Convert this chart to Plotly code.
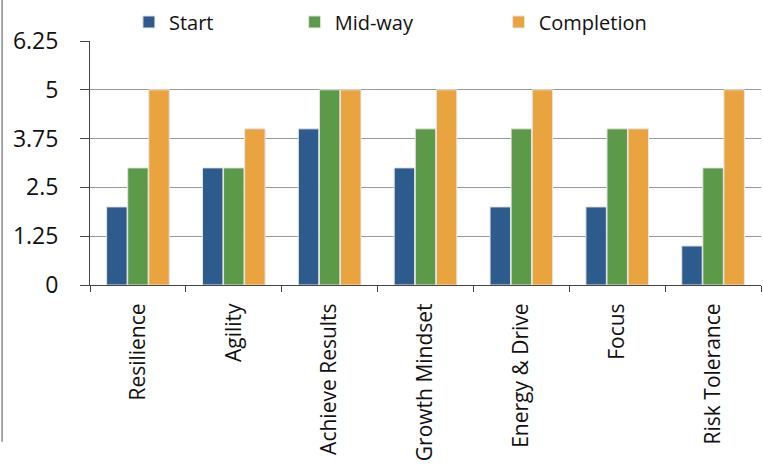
import plotly.graph_objects as go

categories = ["Resilience", "Agility", "Achieve Results", "Growth Mindset",
              "Energy & Drive", "Focus", "Risk Tolerance"]
start = [2, 3, 4, 3, 2, 2, 1]
mid_way = [3, 3, 5, 4, 4, 4, 3]
completion = [5, 4, 5, 5, 5, 4, 5]
y_ticks = [0, 1.25, 2.5, 3.75, 5, 6.25]

series = [
    ("Start", start, "#2E5B8E", "legend", 0.058),
    ("Mid-way", mid_way, "#5C9A4A", "legend2", 0.305),
    ("Completion", completion, "#E9A33F", "legend3", 0.609),
]

fig = go.Figure()
for name, vals, color, leg, _ in series:
    fig.add_trace(go.Bar(
        x=categories, y=vals, name=name, legend=leg, showlegend=True,
        marker=dict(color=color, line=dict(color="#E6E6E6", width=1)),
    ))

legend_font = dict(family="Open Sans", size=20, color="#111111")
legend_common = dict(orientation="h", yanchor="middle", xanchor="left",
                     y=1.078, font=legend_font, bgcolor="rgba(0,0,0,0)",
                     itemwidth=30)
fig.update_layout(
    showlegend=True,
    legend=dict(x=series[0][4], **legend_common),
    legend2=dict(x=series[1][4], **legend_common),
    legend3=dict(x=series[2][4], **legend_common),
)

fig.update_layout(
    width=763, height=469,
    margin=dict(l=90, r=2, t=39, b=184),
    plot_bgcolor="white", paper_bgcolor="white",
    barmode="group", bargap=0.34, bargroupgap=0.03,
    font=dict(family="Open Sans", color="#111111"),
    xaxis=dict(
        tickangle=-90, tickfont=dict(size=21),
        ticks="outside", ticklen=6, tickcolor="#444444",
        tickson="boundaries", showline=True, linecolor="#444444",
        linewidth=1, showgrid=False, ticklabelstandoff=9,
    ),
    yaxis=dict(
        range=[0, 6.25], tickvals=y_ticks,
        ticktext=["0", "1.25", "2.5", "3.75", "5", "6.25"],
        tickfont=dict(size=23), ticks="outside", ticklen=9,
        tickcolor="#444444", showline=True, linecolor="#444444",
        linewidth=1, showgrid=True, gridcolor="#999999", gridwidth=1,
        ticklabelstandoff=17, zeroline=False,
    ),
    shapes=[dict(type="line", xref="paper", yref="paper",
                 x0=-0.131, x1=-0.131, y0=-0.642, y1=1.2,
                 line=dict(color="#8A8A8A", width=1.5))],
)

fig.write_html("out.html")
